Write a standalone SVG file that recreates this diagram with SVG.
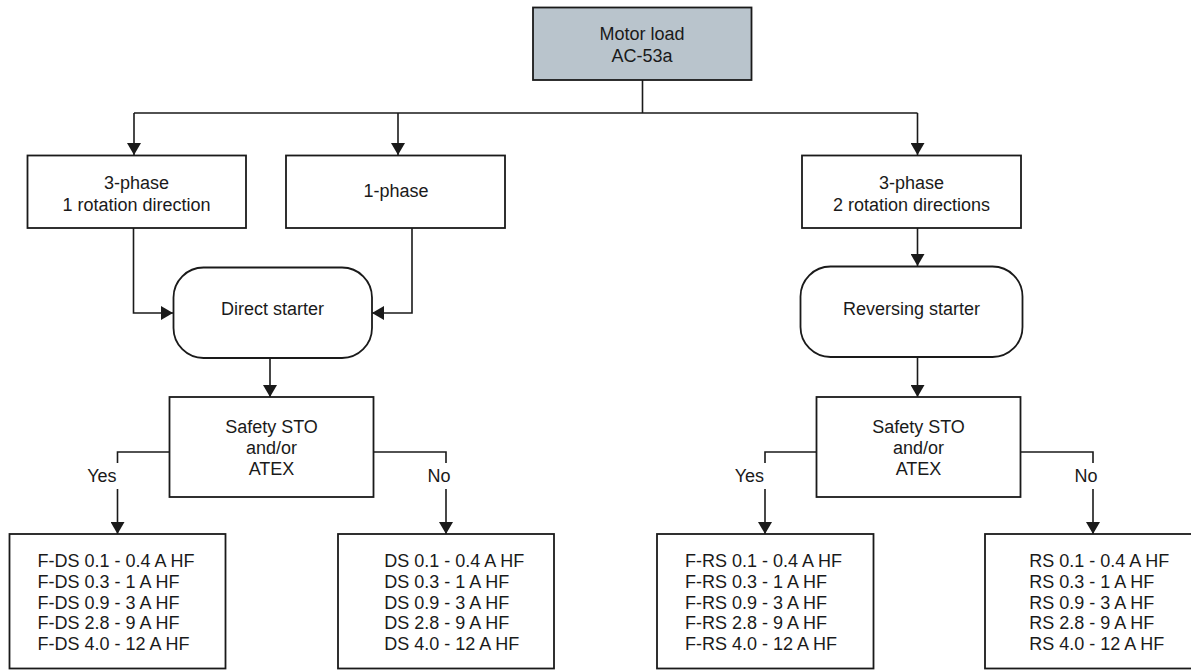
<svg xmlns="http://www.w3.org/2000/svg" width="1191" height="670" viewBox="0 0 1191 670">
<style>
.box{fill:#fff;stroke:#1a1a1a;stroke-width:1.8}
.top{fill:#b9c4cc;stroke:#1a1a1a;stroke-width:1.8}
.t{font-family:"Liberation Sans",Arial,sans-serif;font-size:18px;fill:#1a1a1a}
.c{text-anchor:middle}
.ln{fill:none;stroke:#1a1a1a;stroke-width:1.6}
</style>
<defs>
<marker id="ah" viewBox="0 0 12 14" refX="12" refY="7" markerWidth="12" markerHeight="14" markerUnits="userSpaceOnUse" orient="auto">
<path d="M0,0 L12,7 L0,14 z" fill="#1a1a1a"/>
</marker>
</defs>
<rect width="1191" height="670" fill="#fff"/>
<g id="connectors">
<path class="ln" d="M642.5,80 V113 M134,113 H917.5"/>
<path class="ln" d="M134,113 V155" marker-end="url(#ah)"/>
<path class="ln" d="M398,113 V155" marker-end="url(#ah)"/>
<path class="ln" d="M917.5,113 V155" marker-end="url(#ah)"/>
<path class="ln" d="M133.5,228 V313 H173" marker-end="url(#ah)"/>
<path class="ln" d="M412,228 V313 H372" marker-end="url(#ah)"/>
<path class="ln" d="M917.5,228 V266" marker-end="url(#ah)"/>
<path class="ln" d="M270,358 V397" marker-end="url(#ah)"/>
<path class="ln" d="M917.5,357 V397" marker-end="url(#ah)"/>
<path class="ln" d="M169,452 H117.5 V463"/>
<path class="ln" d="M117.5,489 V534" marker-end="url(#ah)"/>
<path class="ln" d="M373,452 H446 V463"/>
<path class="ln" d="M446,489 V534" marker-end="url(#ah)"/>
<path class="ln" d="M816.5,452 H765 V463"/>
<path class="ln" d="M765,489 V534" marker-end="url(#ah)"/>
<path class="ln" d="M1020.5,452 H1093 V463"/>
<path class="ln" d="M1093,489 V534" marker-end="url(#ah)"/>
<text class="t" x="116.5" y="482" text-anchor="end">Yes</text>
<text class="t c" x="439" y="482">No</text>
<text class="t" x="764" y="482" text-anchor="end">Yes</text>
<text class="t c" x="1086" y="482">No</text>
</g>
<g id="motor-load">
<rect class="top" x="533" y="7.5" width="218.5" height="72.5"/>
<text class="t c" x="642" y="39.5">Motor load</text>
<text class="t c" x="642" y="62">AC-53a</text>
</g>
<g id="three-phase-1">
<rect class="box" x="27.5" y="155.5" width="218.5" height="72.5"/>
<text class="t c" x="136.5" y="189">3-phase</text>
<text class="t c" x="136.5" y="211">1 rotation direction</text>
</g>
<g id="one-phase">
<rect class="box" x="286" y="155.5" width="219" height="72.5"/>
<text class="t c" x="396" y="197">1-phase</text>
</g>
<g id="three-phase-2">
<rect class="box" x="802" y="155.5" width="219" height="72.5"/>
<text class="t c" x="911.5" y="189">3-phase</text>
<text class="t c" x="911.5" y="211">2 rotation directions</text>
</g>
<g id="direct-starter">
<rect class="box" x="173.5" y="267.5" width="198.5" height="90.5" rx="30" ry="30"/>
<text class="t c" x="272.5" y="315">Direct starter</text>
</g>
<g id="reversing-starter">
<rect class="box" x="800.5" y="266.5" width="222" height="90.5" rx="30" ry="30"/>
<text class="t c" x="911.5" y="315">Reversing starter</text>
</g>
<g id="safety-left">
<rect class="box" x="169.5" y="397" width="204" height="100"/>
<text class="t c" x="271.5" y="432.5">Safety STO</text>
<text class="t c" x="271.5" y="453.5">and/or</text>
<text class="t c" x="271.5" y="474.5">ATEX</text>
</g>
<g id="safety-right">
<rect class="box" x="816.5" y="397" width="204" height="100"/>
<text class="t c" x="918.5" y="432.5">Safety STO</text>
<text class="t c" x="918.5" y="453.5">and/or</text>
<text class="t c" x="918.5" y="474.5">ATEX</text>
</g>
<g id="f-ds">
<rect class="box" x="9.5" y="534" width="216" height="134.5"/>
<text class="t" x="37.5" y="567">F-DS 0.1 - 0.4 A HF</text>
<text class="t" x="37.5" y="587.8">F-DS 0.3 - 1 A HF</text>
<text class="t" x="37.5" y="608.6">F-DS 0.9 - 3 A HF</text>
<text class="t" x="37.5" y="629.4">F-DS 2.8 - 9 A HF</text>
<text class="t" x="37.5" y="650.2">F-DS 4.0 - 12 A HF</text>
</g>
<g id="ds">
<rect class="box" x="338" y="534" width="216" height="134.5"/>
<text class="t" x="384.3" y="567">DS 0.1 - 0.4 A HF</text>
<text class="t" x="384.3" y="587.8">DS 0.3 - 1 A HF</text>
<text class="t" x="384.3" y="608.6">DS 0.9 - 3 A HF</text>
<text class="t" x="384.3" y="629.4">DS 2.8 - 9 A HF</text>
<text class="t" x="384.3" y="650.2">DS 4.0 - 12 A HF</text>
</g>
<g id="f-rs">
<rect class="box" x="657" y="534" width="216.5" height="134.5"/>
<text class="t" x="685" y="567">F-RS 0.1 - 0.4 A HF</text>
<text class="t" x="685" y="587.8">F-RS 0.3 - 1 A HF</text>
<text class="t" x="685" y="608.6">F-RS 0.9 - 3 A HF</text>
<text class="t" x="685" y="629.4">F-RS 2.8 - 9 A HF</text>
<text class="t" x="685" y="650.2">F-RS 4.0 - 12 A HF</text>
</g>
<g id="rs">
<rect class="box" x="985" y="534" width="216.5" height="134.5"/>
<text class="t" x="1029.3" y="567">RS 0.1 - 0.4 A HF</text>
<text class="t" x="1029.3" y="587.8">RS 0.3 - 1 A HF</text>
<text class="t" x="1029.3" y="608.6">RS 0.9 - 3 A HF</text>
<text class="t" x="1029.3" y="629.4">RS 2.8 - 9 A HF</text>
<text class="t" x="1029.3" y="650.2">RS 4.0 - 12 A HF</text>
</g>
</svg>
